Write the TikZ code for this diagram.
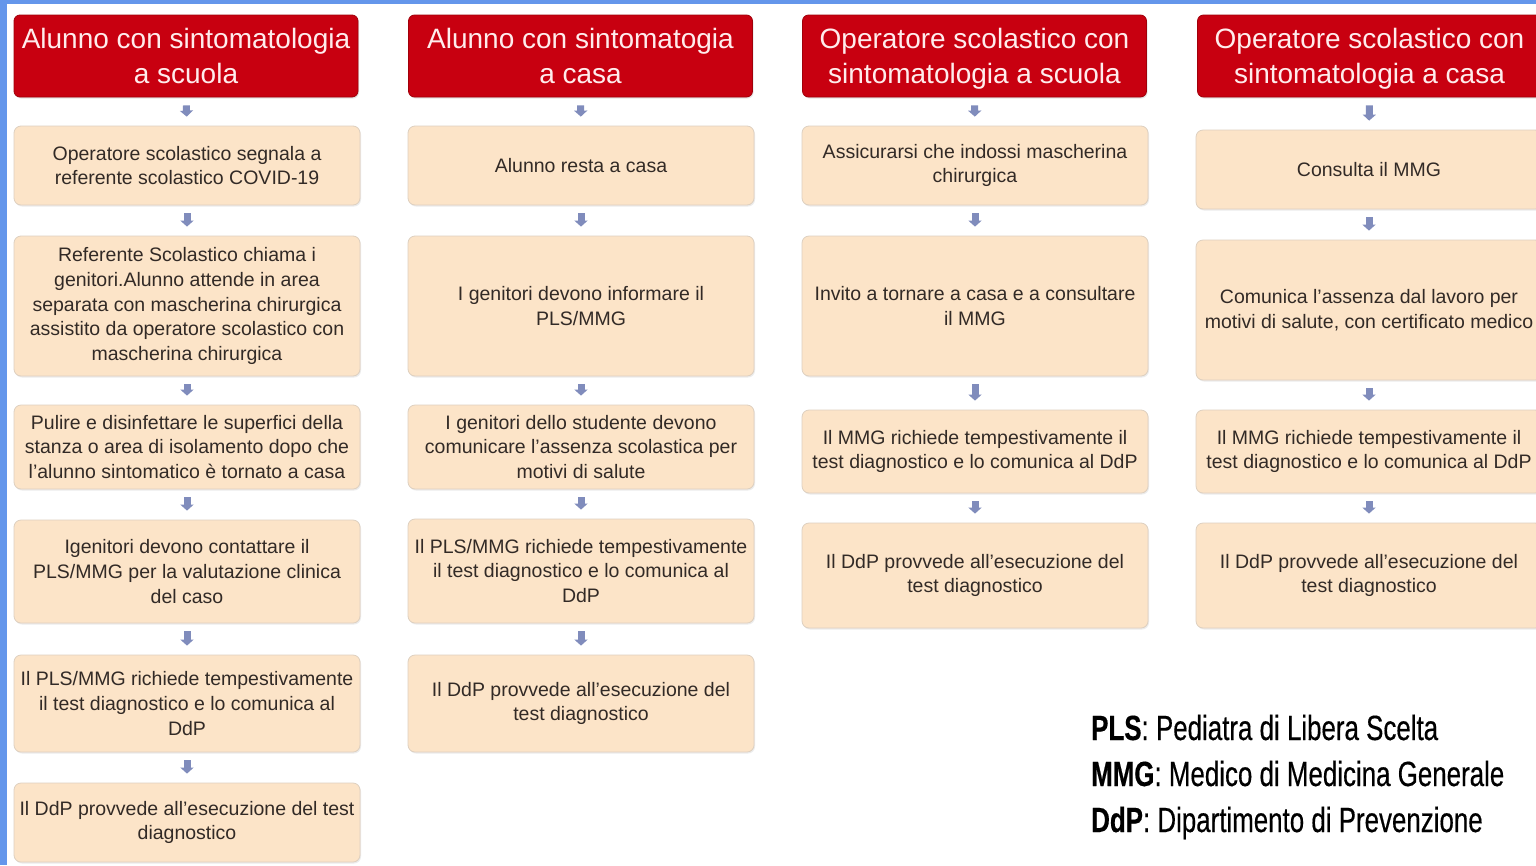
\documentclass[tikz,border=0pt]{standalone}
\usepackage{fontspec}
\setmainfont{Liberation Sans}
\newfontfamily\legfont{Liberation Sans}[FakeStretch=0.74,FakeBold=0.4]
\usetikzlibrary{arrows.meta,shadows}
\definecolor{hdrred}{RGB}{200,0,16}
\definecolor{hdrborder}{RGB}{160,0,10}
\definecolor{peach}{RGB}{252,228,200}
\definecolor{peachborder}{RGB}{222,208,192}
\definecolor{boxtext}{RGB}{50,42,38}
\definecolor{hdrtext}{RGB}{255,236,236}
\definecolor{arrowcol}{RGB}{128,140,188}
\definecolor{frameblue}{RGB}{100,150,235}
\newcommand{\hdrtop}{\rule{0pt}{30.5pt}}
\tikzset{
  hdr/.style={draw=hdrborder, line width=0.8pt, fill=hdrred, rounded corners=6pt,
    text=hdrtext, font=\fontsize{28}{35}\selectfont, align=center, inner sep=0pt,
    minimum width=344pt, minimum height=82pt,
    drop shadow={opacity=0.2, shadow xshift=1pt, shadow yshift=-1.5pt}},
  stepbox/.style={draw=peachborder, line width=0.8pt, fill=peach, rounded corners=7pt,
    text=boxtext, font=\fontsize{19.5}{24.6}\selectfont, align=center, inner sep=0pt,
    minimum width=346pt,
    drop shadow={opacity=0.15, shadow xshift=1pt, shadow yshift=-1.5pt}},
  flow/.style={draw=arrowcol, line width=7pt,
    -{Triangle[width=13pt,length=6pt]}, shorten <=8pt, shorten >=9pt},
  legline/.style={anchor=base west, inner sep=0pt, font=\legfont\fontsize{35}{42}\selectfont, text=black}
}
\begin{document}
\begin{tikzpicture}[x=1pt,y=-1pt]
\useasboundingbox (0,0) rectangle (1536,865);
\fill[white] (0,0) rectangle (1536,865);
\fill[frameblue] (0,0) rectangle (7,865);
\fill[frameblue] (0,0) rectangle (1536,4);

% Column 1
\node[hdr] (h1) at (186,56) {\hdrtop Alunno con sintomatologia\\a scuola\strut};
\node[stepbox, minimum height=79pt] (a1) at (187,165.5) {Operatore scolastico segnala a\\referente scolastico COVID-19};
\node[stepbox, minimum height=140pt] (a2) at (187,306) {Referente Scolastico chiama i\\genitori.Alunno attende in area\\separata con mascherina chirurgica\\assistito da operatore scolastico con\\mascherina chirurgica};
\node[stepbox, minimum height=84pt] (a3) at (187,447) {Pulire e disinfettare le superfici della\\stanza o area di isolamento dopo che\\l’alunno sintomatico è tornato a casa};
\node[stepbox, minimum height=103pt] (a4) at (187,571.5) {Igenitori devono contattare il\\PLS/MMG per la valutazione clinica\\del caso};
\node[stepbox, minimum height=97pt] (a5) at (187,703.5) {Il PLS/MMG richiede tempestivamente\\il test diagnostico e lo comunica al\\DdP};
\node[stepbox, minimum height=79pt] (a6) at (187,822.5) {Il DdP provvede all’esecuzione del test\\diagnostico};

% Column 2
\node[hdr] (h2) at (580.5,56) {\hdrtop Alunno con sintomatogia\\a casa\strut};
\node[stepbox, minimum height=79pt] (b1) at (581,165.5) {Alunno resta a casa};
\node[stepbox, minimum height=140pt] (b2) at (581,306) {I genitori devono informare il\\PLS/MMG};
\node[stepbox, minimum height=84pt] (b3) at (581,447) {I genitori dello studente devono\\comunicare l’assenza scolastica per\\motivi di salute};
\node[stepbox, minimum height=104pt] (b4) at (581,571) {Il PLS/MMG richiede tempestivamente\\il test diagnostico e lo comunica al\\DdP};
\node[stepbox, minimum height=97pt] (b5) at (581,703.5) {Il DdP provvede all’esecuzione del\\test diagnostico};

% Column 3
\node[hdr] (h3) at (974.5,56) {\hdrtop Operatore scolastico con\\sintomatologia a scuola\strut};
\node[stepbox, minimum height=79pt] (c1) at (975,165.5) {Assicurarsi che indossi mascherina\\chirurgica};
\node[stepbox, minimum height=140pt] (c2) at (975,306) {Invito a tornare a casa e a consultare\\il MMG};
\node[stepbox, minimum height=83pt] (c3) at (975,451.5) {Il MMG richiede tempestivamente il\\test diagnostico e lo comunica al DdP};
\node[stepbox, minimum height=105pt] (c4) at (975,575.5) {Il DdP provvede all’esecuzione del\\test diagnostico};

% Column 4
\node[hdr] (h4) at (1369.5,56) {\hdrtop Operatore scolastico con\\sintomatologia a casa\strut};
\node[stepbox, minimum height=79pt] (d1) at (1369,169.5) {Consulta il MMG};
\node[stepbox, minimum height=140pt] (d2) at (1369,310) {Comunica l’assenza dal lavoro per\\motivi di salute, con certificato medico};
\node[stepbox, minimum height=83pt] (d3) at (1369,451.5) {Il MMG richiede tempestivamente il\\test diagnostico e lo comunica al DdP};
\node[stepbox, minimum height=105pt] (d4) at (1369,575.5) {Il DdP provvede all’esecuzione del\\test diagnostico};

% Arrows
\draw[flow] (h1.south) -- (a1.north);
\draw[flow] (a1.south) -- (a2.north);
\draw[flow] (a2.south) -- (a3.north);
\draw[flow] (a3.south) -- (a4.north);
\draw[flow] (a4.south) -- (a5.north);
\draw[flow] (a5.south) -- (a6.north);
\draw[flow] (h2.south) -- (b1.north);
\draw[flow] (b1.south) -- (b2.north);
\draw[flow] (b2.south) -- (b3.north);
\draw[flow] (b3.south) -- (b4.north);
\draw[flow] (b4.south) -- (b5.north);
\draw[flow] (h3.south) -- (c1.north);
\draw[flow] (c1.south) -- (c2.north);
\draw[flow] (c2.south) -- (c3.north);
\draw[flow] (c3.south) -- (c4.north);
\draw[flow] (h4.south) -- (d1.north);
\draw[flow] (d1.south) -- (d2.north);
\draw[flow] (d2.south) -- (d3.north);
\draw[flow] (d3.south) -- (d4.north);

% Legend
\node[legline] (leg1) at (1091,740) {\textbf{PLS}: Pediatra di Libera Scelta};
\node[legline] (leg2) at (1091,786) {\textbf{MMG}: Medico di Medicina Generale};
\node[legline] (leg3) at (1091,832) {\textbf{DdP}: Dipartimento di Prevenzione};
\end{tikzpicture}
\end{document}
